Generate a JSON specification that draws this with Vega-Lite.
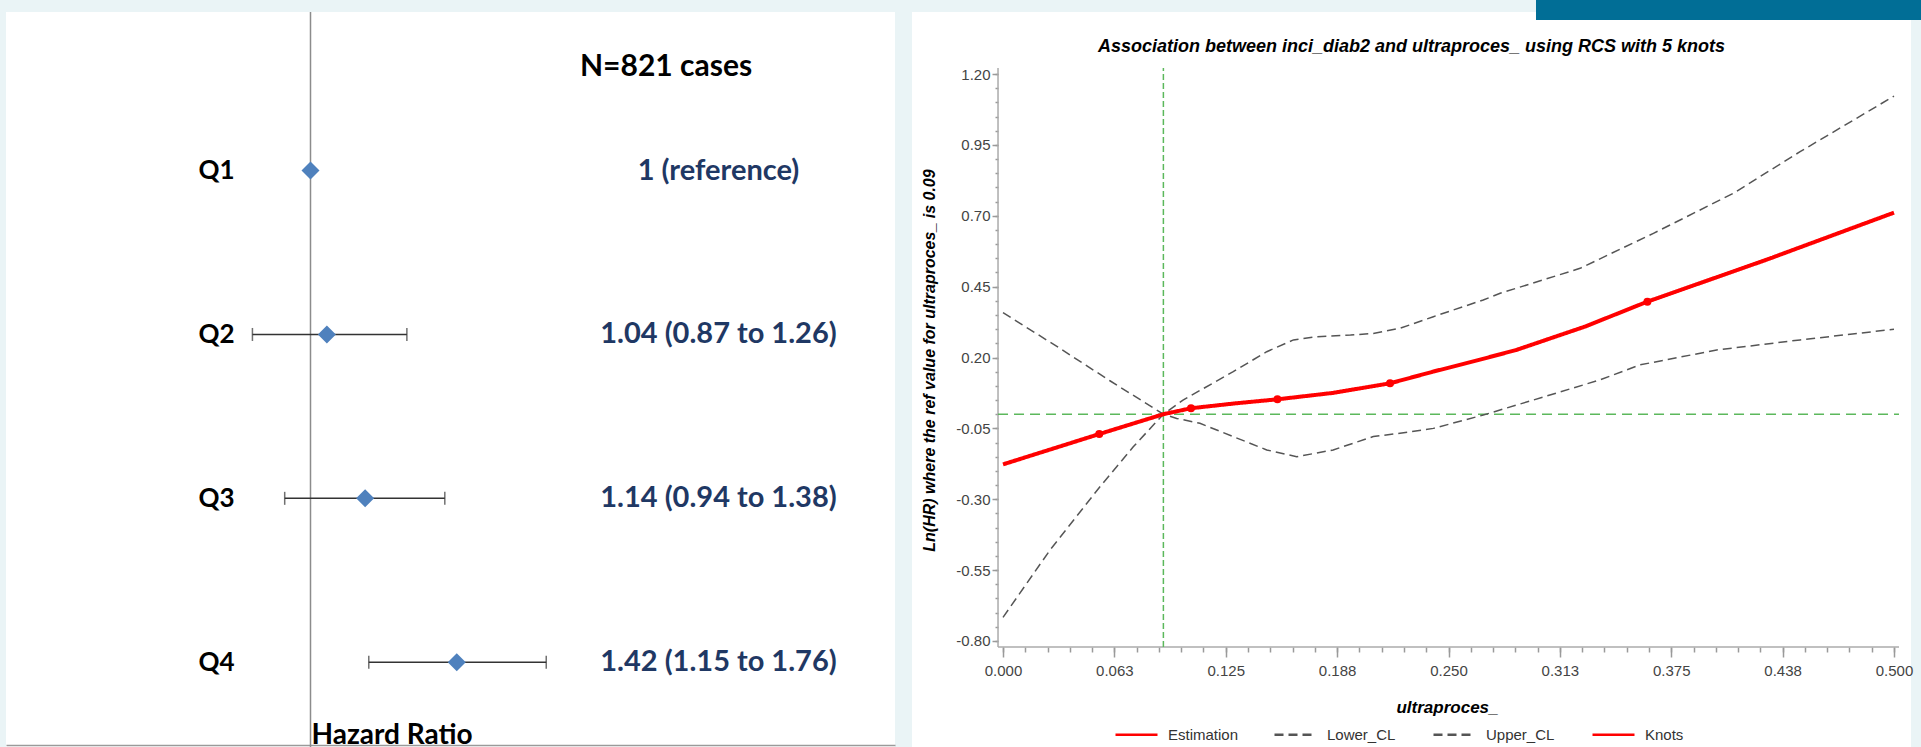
{
  "$schema": "https://vega.github.io/schema/vega-lite/v6.json",
  "background": "#EAF4F6",
  "padding": {"left": 6, "top": 0, "right": 0, "bottom": 0},
  "bounds": "flush",
  "spacing": 17,
  "config": {"view": {"fill": "white", "stroke": null}},
  "datasets": {
    "forest": [
      {"quartile": "Q1", "hr": 1.0, "lo": null, "hi": null, "label": "1 (reference)"},
      {"quartile": "Q2", "hr": 1.04, "lo": 0.87, "hi": 1.26, "label": "1.04 (0.87 to 1.26)"},
      {"quartile": "Q3", "hr": 1.14, "lo": 0.94, "hi": 1.38, "label": "1.14 (0.94 to 1.38)"},
      {"quartile": "Q4", "hr": 1.42, "lo": 1.15, "hi": 1.76, "label": "1.42 (1.15 to 1.76)"}
    ],
    "curves": [
      {"series": "Estimation", "x": 0.0, "y": -0.177},
      {"series": "Estimation", "x": 0.054, "y": -0.07},
      {"series": "Estimation", "x": 0.09, "y": 0.0},
      {"series": "Estimation", "x": 0.1055, "y": 0.021},
      {"series": "Estimation", "x": 0.13, "y": 0.038},
      {"series": "Estimation", "x": 0.154, "y": 0.0525},
      {"series": "Estimation", "x": 0.185, "y": 0.075},
      {"series": "Estimation", "x": 0.2172, "y": 0.109},
      {"series": "Estimation", "x": 0.2413, "y": 0.15},
      {"series": "Estimation", "x": 0.265, "y": 0.188},
      {"series": "Estimation", "x": 0.288, "y": 0.2265},
      {"series": "Estimation", "x": 0.3266, "y": 0.309},
      {"series": "Estimation", "x": 0.3616, "y": 0.397},
      {"series": "Estimation", "x": 0.4285, "y": 0.545},
      {"series": "Estimation", "x": 0.5, "y": 0.711},
      {"series": "Upper_CL", "x": 0.0, "y": 0.358},
      {"series": "Upper_CL", "x": 0.03, "y": 0.24},
      {"series": "Upper_CL", "x": 0.06, "y": 0.118},
      {"series": "Upper_CL", "x": 0.09, "y": 0.0},
      {"series": "Upper_CL", "x": 0.101, "y": 0.05},
      {"series": "Upper_CL", "x": 0.1292, "y": 0.15},
      {"series": "Upper_CL", "x": 0.148, "y": 0.2205},
      {"series": "Upper_CL", "x": 0.163, "y": 0.262},
      {"series": "Upper_CL", "x": 0.176, "y": 0.2735},
      {"series": "Upper_CL", "x": 0.195, "y": 0.279},
      {"series": "Upper_CL", "x": 0.2078, "y": 0.285},
      {"series": "Upper_CL", "x": 0.2228, "y": 0.303},
      {"series": "Upper_CL", "x": 0.2415, "y": 0.344},
      {"series": "Upper_CL", "x": 0.2695, "y": 0.403},
      {"series": "Upper_CL", "x": 0.279, "y": 0.4265},
      {"series": "Upper_CL", "x": 0.3238, "y": 0.5145},
      {"series": "Upper_CL", "x": 0.365, "y": 0.638},
      {"series": "Upper_CL", "x": 0.4098, "y": 0.779},
      {"series": "Upper_CL", "x": 0.4473, "y": 0.926},
      {"series": "Upper_CL", "x": 0.5, "y": 1.122},
      {"series": "Lower_CL", "x": 0.0, "y": -0.7165},
      {"series": "Lower_CL", "x": 0.0264, "y": -0.479},
      {"series": "Lower_CL", "x": 0.0544, "y": -0.256},
      {"series": "Lower_CL", "x": 0.0731, "y": -0.115},
      {"series": "Lower_CL", "x": 0.09, "y": 0.0},
      {"series": "Lower_CL", "x": 0.0975, "y": -0.015},
      {"series": "Lower_CL", "x": 0.1105, "y": -0.032},
      {"series": "Lower_CL", "x": 0.1292, "y": -0.079},
      {"series": "Lower_CL", "x": 0.148, "y": -0.126},
      {"series": "Lower_CL", "x": 0.1648, "y": -0.15},
      {"series": "Lower_CL", "x": 0.1853, "y": -0.126},
      {"series": "Lower_CL", "x": 0.2078, "y": -0.079},
      {"series": "Lower_CL", "x": 0.2228, "y": -0.067},
      {"series": "Lower_CL", "x": 0.2415, "y": -0.05},
      {"series": "Lower_CL", "x": 0.2695, "y": -0.003},
      {"series": "Lower_CL", "x": 0.2976, "y": 0.05},
      {"series": "Lower_CL", "x": 0.335, "y": 0.121},
      {"series": "Lower_CL", "x": 0.3575, "y": 0.174},
      {"series": "Lower_CL", "x": 0.4005, "y": 0.2265},
      {"series": "Lower_CL", "x": 0.4473, "y": 0.262},
      {"series": "Lower_CL", "x": 0.5, "y": 0.2995}
    ],
    "knots": [
      {"x": 0.054, "y": -0.07},
      {"x": 0.1055, "y": 0.021},
      {"x": 0.154, "y": 0.0525},
      {"x": 0.2172, "y": 0.109},
      {"x": 0.3616, "y": 0.397}
    ]
  },
  "hconcat": [
    {
      "width": 889,
      "height": 735,
      "title": {"text": "N=821 cases", "anchor": "start", "frame": "group", "dx": 574, "offset": -71, "font": "Lato", "fontSize": 30, "fontWeight": "bold", "color": "#000000"},
      "layer": [
        {
          "data": {"values": [{}]},
          "mark": {"type": "rule", "color": "#8c8c8c", "strokeWidth": 1.5},
          "encoding": {"x": {"datum": 1, "type": "quantitative"}}
        },
        {
          "data": {"name": "forest"},
          "mark": {"type": "rule", "color": "#333333", "strokeWidth": 1.5},
          "encoding": {
            "x": {"field": "lo", "type": "quantitative",
              "scale": {"type": "log", "domain": [0.4818, 4.062], "nice": false},
              "axis": {"orient": "bottom", "offset": -2, "domain": true, "domainColor": "#9a9a9a", "domainWidth": 1.5, "ticks": false, "labels": false, "grid": false,
                "title": "Hazard Ratio", "titleFont": "Lato", "titleFontSize": 28, "titleFontWeight": "bold", "titleColor": "#000000", "titleX": 305, "titleY": -2, "titleAlign": "left", "titleBaseline": "alphabetic"}},
            "x2": {"field": "hi"},
            "y": {"field": "quartile", "type": "nominal",
              "scale": {"type": "point", "domain": ["Q1", "Q2", "Q3", "Q4"], "padding": 0.7427, "align": 0.6516},
              "axis": {"orient": "left", "offset": -228, "domain": false, "ticks": false, "grid": false, "labelPadding": 0, "labelFont": "Lato", "labelFontSize": 26, "labelFontWeight": "bold", "labelColor": "#000000", "title": null}}
          }
        },
        {
          "data": {"name": "forest"},
          "mark": {"type": "tick", "orient": "vertical", "color": "#333333", "size": 13, "thickness": 1.5},
          "encoding": {"x": {"field": "lo", "type": "quantitative"}, "y": {"field": "quartile", "type": "nominal"}}
        },
        {
          "data": {"name": "forest"},
          "mark": {"type": "tick", "orient": "vertical", "color": "#333333", "size": 13, "thickness": 1.5},
          "encoding": {"x": {"field": "hi", "type": "quantitative"}, "y": {"field": "quartile", "type": "nominal"}}
        },
        {
          "data": {"name": "forest"},
          "mark": {"type": "point", "shape": "diamond", "filled": true, "color": "#4F81BD", "size": 324, "opacity": 1},
          "encoding": {"x": {"field": "hr", "type": "quantitative"}, "y": {"field": "quartile", "type": "nominal"}}
        },
        {
          "data": {"name": "forest"},
          "mark": {"type": "text", "font": "Lato", "fontSize": 29, "fontWeight": "bold", "color": "#1F3864", "align": "center", "baseline": "middle"},
          "encoding": {"x": {"datum": 2.66, "type": "quantitative"}, "y": {"field": "quartile", "type": "nominal"}, "text": {"field": "label"}}
        }
      ]
    },
    {
      "width": 999,
      "height": 735,
      "title": {"text": "Association between inci_diab2 and ultraproces_ using RCS with 5 knots", "anchor": "middle", "frame": "group", "offset": -56, "font": "Liberation Sans", "fontSize": 18, "fontStyle": "italic", "fontWeight": "bold", "color": "#000000"},
      "resolve": {"axis": {"x": "independent", "y": "independent"}},
      "layer": [
        {
          "data": {"values": [{}]},
          "mark": {"type": "rect", "color": "#016E96"},
          "encoding": {
            "x": {"datum": 0.2991, "type": "quantitative", "axis": null},
            "x2": {"datum": 0.5152},
            "y": {"datum": 1.3905, "type": "quantitative", "axis": null},
            "y2": {"datum": 1.461}
          }
        },
        {
          "data": {"values": [{}]},
          "mark": {"type": "rule", "color": "#ababab", "strokeWidth": 1.5},
          "encoding": {
            "x": {"datum": -0.0028, "type": "quantitative", "axis": null},
            "y": {"datum": -0.821, "type": "quantitative",
              "axis": {"orient": "left", "offset": -86, "domain": false, "grid": false, "labels": false, "title": null,
                "values": [-0.8, -0.75, -0.7, -0.65, -0.6, -0.55, -0.5, -0.45, -0.4, -0.35, -0.3, -0.25, -0.2, -0.15, -0.1, -0.05, 0, 0.05, 0.1, 0.15, 0.2, 0.25, 0.3, 0.35, 0.4, 0.45, 0.5, 0.55, 0.6, 0.65, 0.7, 0.75, 0.8, 0.85, 0.9, 0.95, 1, 1.05, 1.1, 1.15, 1.2],
                "tickSize": 3, "tickColor": "#9a9a9a", "tickWidth": 1.5}},
            "y2": {"datum": 1.221}
          }
        },
        {
          "data": {"values": [{}]},
          "mark": {"type": "rule", "color": "#ababab", "strokeWidth": 1.5},
          "encoding": {
            "x": {"datum": -0.0028, "type": "quantitative",
              "axis": {"orient": "bottom", "offset": -100, "domain": false, "grid": false, "labels": false, "title": null,
                "values": [0, 0.0125, 0.025, 0.0375, 0.05, 0.0625, 0.075, 0.0875, 0.1, 0.1125, 0.125, 0.1375, 0.15, 0.1625, 0.175, 0.1875, 0.2, 0.2125, 0.225, 0.2375, 0.25, 0.2625, 0.275, 0.2875, 0.3, 0.3125, 0.325, 0.3375, 0.35, 0.3625, 0.375, 0.3875, 0.4, 0.4125, 0.425, 0.4375, 0.45, 0.4625, 0.475, 0.4875, 0.5],
                "tickSize": 5, "tickColor": "#9a9a9a", "tickWidth": 1.5}},
            "x2": {"datum": 0.5028},
            "y": {"datum": -0.821, "type": "quantitative", "axis": null}
          }
        },
        {
          "data": {"values": [{}]},
          "mark": {"type": "rule", "color": "#5CB85C", "strokeWidth": 1.5, "strokeDash": [6, 3]},
          "encoding": {
            "x": {"datum": 0.09, "type": "quantitative", "axis": null},
            "y": {"datum": -0.821, "type": "quantitative", "axis": null},
            "y2": {"datum": 1.221}
          }
        },
        {
          "data": {"values": [{}]},
          "mark": {"type": "rule", "color": "#5CB85C", "strokeWidth": 1.5, "strokeDash": [10, 6]},
          "encoding": {
            "x": {"datum": -0.0028, "type": "quantitative", "axis": null},
            "x2": {"datum": 0.5028},
            "y": {"datum": 0, "type": "quantitative", "axis": null}
          }
        },
        {
          "data": {"name": "curves"},
          "transform": [{"filter": "datum.series !== 'Estimation'"}],
          "mark": {"type": "line", "strokeWidth": 1.5},
          "encoding": {
            "x": {"field": "x", "type": "quantitative",
              "scale": {"domain": [-0.05107, 0.50954], "nice": false, "zero": false},
              "axis": {
                "orient": "bottom", "offset": -100, "domain": false, "grid": false,
                "values": [0, 0.0625, 0.125, 0.1875, 0.25, 0.3125, 0.375, 0.4375, 0.5],
                "format": ".3f",
                "tickSize": 10, "tickColor": "#9a9a9a", "tickWidth": 1.5,
                "labelFont": "Liberation Sans", "labelFontSize": 15, "labelColor": "#444444", "labelPadding": 6, "labelOverlap": false, "labelFlush": false,
                "title": "ultraproces_", "titleFont": "Liberation Sans", "titleFontSize": 17, "titleFontStyle": "italic", "titleFontWeight": "bold", "titleColor": "#000000", "titleX": 535, "titleY": 60, "titleBaseline": "middle", "titleAlign": "center"
              }},
            "y": {"field": "y", "type": "quantitative",
              "scale": {"domain": [-1.1739, 1.4187], "nice": false, "zero": false},
              "axis": {
                "orient": "left", "offset": -86, "domain": false, "grid": false,
                "values": [-0.8, -0.55, -0.3, -0.05, 0.2, 0.45, 0.7, 0.95, 1.2],
                "tickSize": 6, "tickColor": "#9a9a9a", "tickWidth": 1.5,
                "labelExpr": "replace(format(datum.value,'.2f'),'\u2212','-')",
                "labelFont": "Liberation Sans", "labelFontSize": 15, "labelColor": "#444444", "labelPadding": 2, "labelOverlap": false, "labelFlush": false,
                "title": "Ln(HR) where the ref value for ultraproces_ is 0.09", "titleFont": "Liberation Sans", "titleFontSize": 16, "titleFontStyle": "italic", "titleFontWeight": "bold", "titleColor": "#000000", "titleX": -69, "titleY": 348, "titleAngle": -90, "titleBaseline": "middle", "titleAlign": "center"
              }},
            "color": {"field": "series", "type": "nominal",
              "scale": {"domain": ["Estimation", "Lower_CL", "Upper_CL", "Knots"], "range": ["#ff0000", "#555555", "#555555", "#ff0000"]},
              "legend": {
                "orient": "none", "legendX": 1108, "legendY": 700, "direction": "horizontal", "title": null,
                "symbolType": "stroke", "symbolSize": 1764, "symbolStrokeWidth": 2.5,
                "labelFont": "Liberation Sans", "labelFontSize": 15, "labelColor": "#333333", "labelOffset": 9,
                "columnPadding": 30, "gridAlign": "all", "padding": 0
              }},
            "strokeDash": {"field": "series", "type": "nominal",
              "scale": {"domain": ["Estimation", "Lower_CL", "Upper_CL", "Knots"], "range": [[1, 0], [9, 5], [9, 5], [1, 0]]},
              "legend": {
                "orient": "none", "legendX": 1108, "legendY": 700, "direction": "horizontal", "title": null,
                "symbolType": "stroke", "symbolSize": 1764, "symbolStrokeWidth": 2.5,
                "labelFont": "Liberation Sans", "labelFontSize": 15, "labelColor": "#333333", "labelOffset": 9,
                "columnPadding": 30, "gridAlign": "all", "padding": 0
              }}
          }
        },
        {
          "data": {"name": "curves"},
          "transform": [{"filter": "datum.series === 'Estimation'"}],
          "mark": {"type": "line", "strokeWidth": 4},
          "encoding": {
            "x": {"field": "x", "type": "quantitative", "axis": null},
            "y": {"field": "y", "type": "quantitative", "axis": null},
            "color": {"field": "series", "type": "nominal"},
            "strokeDash": {"field": "series", "type": "nominal"}
          }
        },
        {
          "data": {"name": "knots"},
          "mark": {"type": "point", "filled": true, "size": 64, "opacity": 1, "shape": "circle"},
          "encoding": {
            "x": {"field": "x", "type": "quantitative", "axis": null},
            "y": {"field": "y", "type": "quantitative", "axis": null},
            "color": {"datum": "Knots", "type": "nominal"}
          }
        }
      ]
    }
  ]
}
